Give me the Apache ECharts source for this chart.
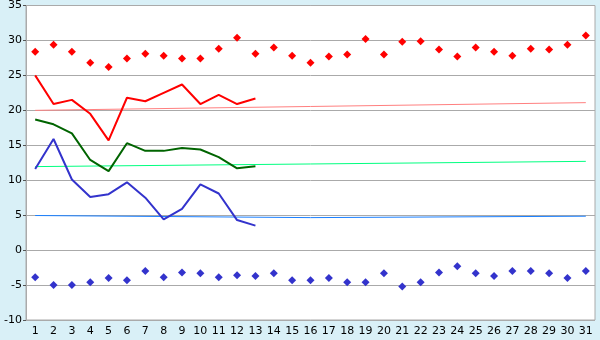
<!DOCTYPE html>
<html>
<head>
<meta charset="utf-8">
<script src="https://cdn.jsdelivr.net/npm/echarts@6/dist/echarts.min.js"></script>
<style>
    html, body { margin: 0; padding: 0; background: #d9f0f7; }
    #chart { width: 600px; height: 340px; }
</style>
</head>
<body>
<div id="chart"></div>
<script>
    // days of the month
    var days = [];
    for (var d = 1; d <= 31; d++) days.push(String(d));

    // daily highs / lows (dots)
    var highDots = [28.4, 29.4, 28.4, 26.8, 26.2, 27.4, 28.1, 27.8, 27.4, 27.4,
        28.8, 30.4, 28.1, 29.0, 27.8, 26.8, 27.7, 28.0, 30.2, 28.0,
        29.8, 29.9, 28.7, 27.7, 29.0, 28.4, 27.8, 28.8, 28.7, 29.4, 30.7];
    var lowDots = [-3.9, -5.0, -5.0, -4.6, -4.0, -4.3, -3.0, -3.9, -3.2, -3.3,
        -3.9, -3.6, -3.7, -3.3, -4.3, -4.3, -4.0, -4.6, -4.6, -3.3,
        -5.2, -4.6, -3.2, -2.3, -3.3, -3.7, -3.0, -3.0, -3.3, -4.0, -3.0];

    // current month lines (days 1-13)
    var maxLine = [25.0, 20.9, 21.5, 19.5, 15.7, 21.8, 21.3, 22.5, 23.7, 20.9, 22.2, 20.9, 21.7];
    var avgLine = [18.7, 18.0, 16.7, 12.9, 11.3, 15.3, 14.2, 14.2, 14.6, 14.4, 13.3, 11.7, 12.0];
    var minLine = [11.6, 15.9, 10.1, 7.6, 8.0, 9.7, 7.5, 4.4, 5.9, 9.4, 8.1, 4.3, 3.5];

    // normals (thin lines), known points only
    var maxNormal = [20.0, null, null, null, null, null, null, null, null, null,
        null, null, null, null, null, null, null, null, null, null,
        null, null, null, null, null, null, null, null, null, null, 21.1];
    var avgNormal = [11.95, null, null, null, null, null, null, null, null, null,
        null, null, null, null, null, null, null, null, null, null,
        null, null, null, null, null, null, null, null, null, null, 12.7];
    var minNormal = [4.95, null, null, null, null, null, null, null, null, null,
        null, null, null, null, null, 4.65, null, null, null, null,
        null, null, null, null, null, null, null, null, null, null, 4.85];

    var chart = echarts.init(document.getElementById('chart'));

    function thin(data, color) {
        return {
            type: 'line', data: data, connectNulls: true, symbol: 'none',
            lineStyle: {color: color, width: 1}, z: 1
        };
    }

    function thick(data, color) {
        return {
            type: 'line', data: data, symbol: 'none',
            lineStyle: {color: color, width: 2}, z: 3
        };
    }

    function dots(data, color) {
        return {
            type: 'scatter', data: data, symbol: 'diamond', symbolSize: 8,
            itemStyle: {color: color, opacity: 1}, z: 4
        };
    }

    chart.setOption({
        animation: false,
        backgroundColor: '#d9f0f7',
        grid: {
            left: 26, right: 5, top: 5, bottom: 20,
            show: true, backgroundColor: '#ffffff', borderColor: '#aaaaaa', borderWidth: 1
        },
        xAxis: {
            type: 'category',
            data: days,
            boundaryGap: true,
            axisLine: {lineStyle: {color: '#aaaaaa'}},
            axisTick: {alignWithLabel: true, length: 5, lineStyle: {color: '#555555'}},
            axisLabel: {color: '#000', fontFamily: 'DejaVu Sans', fontSize: 11, margin: 6, interval: 0},
            splitLine: {show: false}
        },
        yAxis: {
            type: 'value',
            min: -10, max: 35, interval: 5,
            axisLine: {show: true, lineStyle: {color: '#aaaaaa'}},
            axisTick: {show: true, length: 3, lineStyle: {color: '#555555'}},
            axisLabel: {color: '#000', fontFamily: 'DejaVu Sans', fontSize: 11, margin: 4},
            splitLine: {lineStyle: {color: '#aaaaaa', width: 1}}
        },
        series: [
            thin(maxNormal, '#ff8080'),
            thin(avgNormal, '#00ff80'),
            thin(minNormal, '#1a80ff'),
            thick(maxLine, '#ff0000'),
            thick(avgLine, '#006400'),
            thick(minLine, '#3333cc'),
            dots(highDots, '#ff0000'),
            dots(lowDots, '#3333cc')
        ]
    });
</script>
</body>
</html>
